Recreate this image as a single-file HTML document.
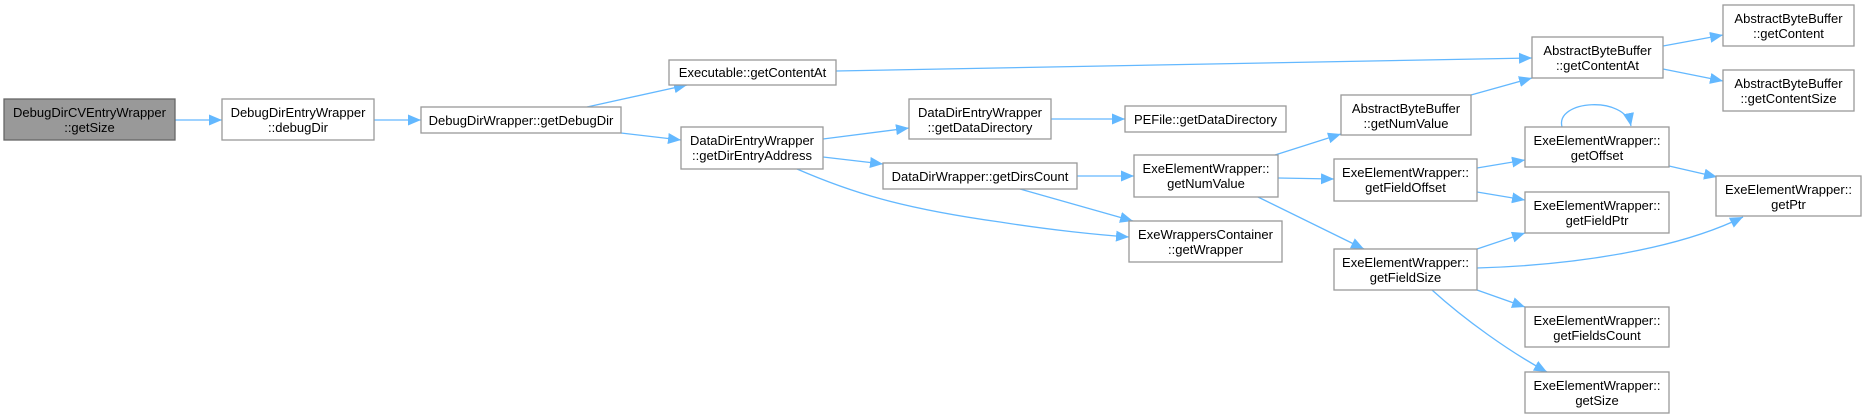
<!DOCTYPE html>
<html><head><meta charset="utf-8"><style>
html,body{margin:0;padding:0;background:#fff;}
svg{display:block;}
text{font-family:"Liberation Sans",Arial,sans-serif;font-size:13px;fill:#000;text-anchor:middle;}
.n{fill:#fff;stroke:#999;stroke-width:1.3;}
.e{fill:none;stroke:#63b8ff;stroke-width:1.3;}
</style></head><body>
<svg width="1866" height="418" viewBox="0 0 1866 418" xmlns="http://www.w3.org/2000/svg">
<defs>
<marker id="a" markerUnits="userSpaceOnUse" markerWidth="14" markerHeight="12" refX="13" refY="5.5" orient="auto">
<path d="M0,0 L13,5.5 L0,11 Z" fill="#63b8ff"/>
</marker>
</defs>
<g class="edges">
<path class="e" marker-end="url(#a)" d="M175,120 L222,120"/>
<path class="e" marker-end="url(#a)" d="M374,120 L421,120"/>
<path class="e" marker-end="url(#a)" d="M587,107 L687,85"/>
<path class="e" marker-end="url(#a)" d="M621,133 L681,140"/>
<path class="e" marker-end="url(#a)" d="M836,71 L1532,58"/>
<path class="e" marker-end="url(#a)" d="M823,139 L909,128"/>
<path class="e" marker-end="url(#a)" d="M823,157 L883,164"/>
<path class="e" marker-end="url(#a)" d="M797,169 C850,192 900,208 1000,222 C1050,230 1100,235 1129,237"/>
<path class="e" marker-end="url(#a)" d="M1051,119 L1125,119"/>
<path class="e" marker-end="url(#a)" d="M1077,176 L1134,176"/>
<path class="e" marker-end="url(#a)" d="M1020,189 L1133,221"/>
<path class="e" marker-end="url(#a)" d="M1275,155 L1341,134"/>
<path class="e" marker-end="url(#a)" d="M1278,178 L1334,179"/>
<path class="e" marker-end="url(#a)" d="M1258,197 L1364,249"/>
<path class="e" marker-end="url(#a)" d="M1471,95 L1532,78"/>
<path class="e" marker-end="url(#a)" d="M1663,46 L1723,35"/>
<path class="e" marker-end="url(#a)" d="M1663,69 L1723,81"/>
<path class="e" marker-end="url(#a)" d="M1477,168 L1525,160"/>
<path class="e" marker-end="url(#a)" d="M1477,192 L1525,200"/>
<path class="e" marker-end="url(#a)" d="M1562,127 C1555,100 1625,95 1631,126"/>
<path class="e" marker-end="url(#a)" d="M1669,166 L1717,177"/>
<path class="e" marker-end="url(#a)" d="M1477,249 L1525,233"/>
<path class="e" marker-end="url(#a)" d="M1477,268 C1580,265 1680,248 1743,217"/>
<path class="e" marker-end="url(#a)" d="M1477,290 L1525,307"/>
<path class="e" marker-end="url(#a)" d="M1432,290 C1465,320 1510,352 1547,372"/>
</g>
<g class="nodes">
<rect x="4" y="99" width="171" height="41" fill="#999" stroke="#666" stroke-width="1.3"/>
<text x="89.5" y="117">DebugDirCVEntryWrapper</text><text x="89.5" y="132">::getSize</text>

<rect class="n" x="222" y="99" width="152" height="41"/>
<text x="298" y="117">DebugDirEntryWrapper</text><text x="298" y="132">::debugDir</text>

<rect class="n" x="421" y="107" width="200" height="26"/>
<text x="521" y="125">DebugDirWrapper::getDebugDir</text>

<rect class="n" x="669" y="60" width="167" height="25"/>
<text x="752.5" y="77">Executable::getContentAt</text>

<rect class="n" x="681" y="127" width="142" height="42"/>
<text x="752" y="145">DataDirEntryWrapper</text><text x="752" y="160">::getDirEntryAddress</text>

<rect class="n" x="909" y="99" width="142" height="40"/>
<text x="980" y="117">DataDirEntryWrapper</text><text x="980" y="132">::getDataDirectory</text>

<rect class="n" x="1125" y="106" width="161" height="26"/>
<text x="1205.5" y="124">PEFile::getDataDirectory</text>

<rect class="n" x="883" y="163" width="194" height="26"/>
<text x="980" y="181">DataDirWrapper::getDirsCount</text>

<rect class="n" x="1134" y="155" width="144" height="42"/>
<text x="1206" y="173">ExeElementWrapper::</text><text x="1206" y="188">getNumValue</text>

<rect class="n" x="1129" y="221" width="153" height="41"/>
<text x="1205.5" y="239">ExeWrappersContainer</text><text x="1205.5" y="254">::getWrapper</text>

<rect class="n" x="1341" y="95" width="130" height="40"/>
<text x="1406" y="113">AbstractByteBuffer</text><text x="1406" y="128">::getNumValue</text>

<rect class="n" x="1334" y="159" width="143" height="42"/>
<text x="1405.5" y="177">ExeElementWrapper::</text><text x="1405.5" y="192">getFieldOffset</text>

<rect class="n" x="1334" y="249" width="143" height="41"/>
<text x="1405.5" y="267">ExeElementWrapper::</text><text x="1405.5" y="282">getFieldSize</text>

<rect class="n" x="1532" y="37" width="131" height="41"/>
<text x="1597.5" y="55">AbstractByteBuffer</text><text x="1597.5" y="70">::getContentAt</text>

<rect class="n" x="1723" y="5" width="131" height="41"/>
<text x="1788.5" y="23">AbstractByteBuffer</text><text x="1788.5" y="38">::getContent</text>

<rect class="n" x="1723" y="70" width="131" height="41"/>
<text x="1788.5" y="88">AbstractByteBuffer</text><text x="1788.5" y="103">::getContentSize</text>

<rect class="n" x="1525" y="127" width="144" height="40"/>
<text x="1597" y="145">ExeElementWrapper::</text><text x="1597" y="160">getOffset</text>

<rect class="n" x="1525" y="192" width="144" height="41"/>
<text x="1597" y="210">ExeElementWrapper::</text><text x="1597" y="225">getFieldPtr</text>

<rect class="n" x="1525" y="307" width="144" height="40"/>
<text x="1597" y="325">ExeElementWrapper::</text><text x="1597" y="340">getFieldsCount</text>

<rect class="n" x="1525" y="372" width="144" height="41"/>
<text x="1597" y="390">ExeElementWrapper::</text><text x="1597" y="405">getSize</text>

<rect class="n" x="1716" y="176" width="145" height="40"/>
<text x="1788.5" y="194">ExeElementWrapper::</text><text x="1788.5" y="209">getPtr</text>
</g>
</svg>
</body></html>
